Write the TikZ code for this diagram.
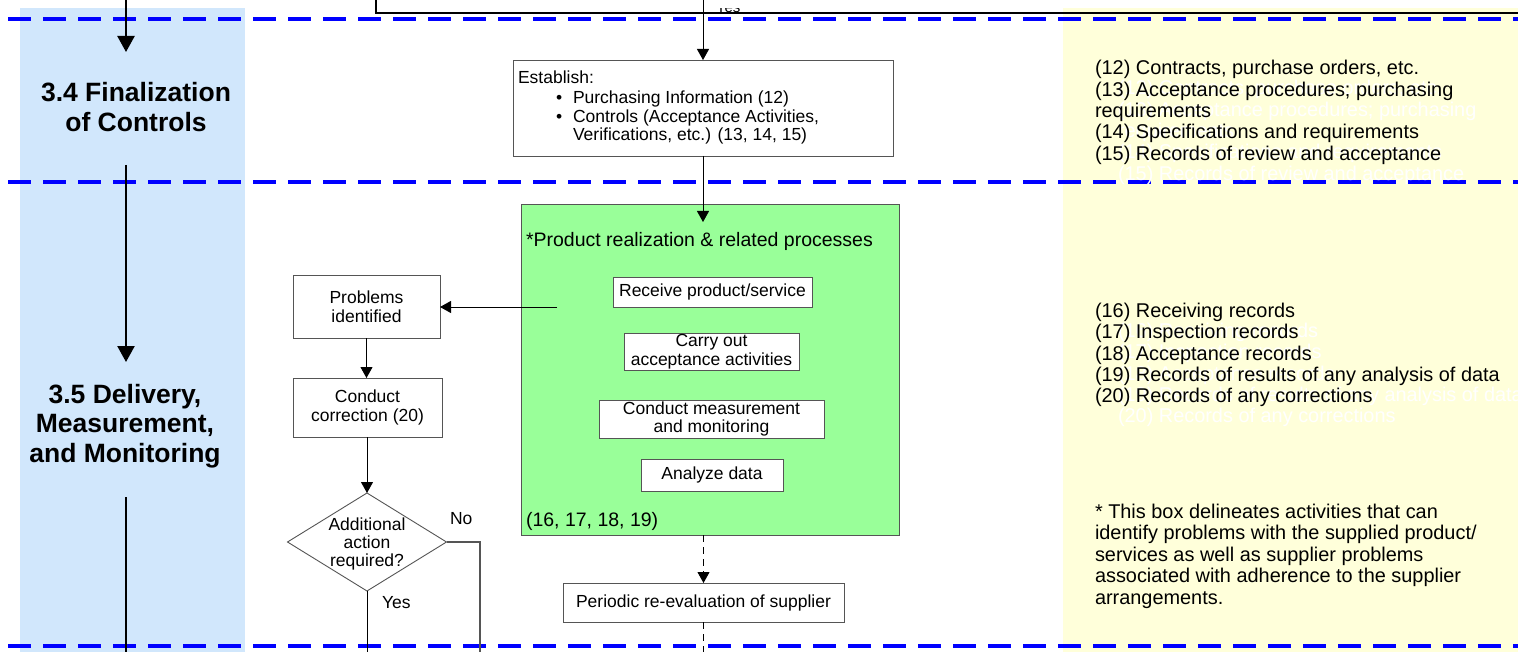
\documentclass[tikz,border=0pt]{standalone}
\usepackage{fontspec}
\setmainfont{Liberation Sans}
\usetikzlibrary{arrows.meta,shapes.geometric}
\definecolor{laneblue}{RGB}{209,231,252}
\definecolor{noteyellow}{RGB}{255,255,218}
\definecolor{procgreen}{RGB}{153,255,153}
\definecolor{sepblue}{RGB}{0,0,255}
\definecolor{edgegray}{RGB}{85,85,85}
\newcommand\fsz[2]{\fontsize{#1}{#2}\selectfont}

\begin{document}
\begin{tikzpicture}[x=1pt,y=-1pt,
  every node/.style={inner sep=0pt, outer sep=0pt},
  procbox/.style={draw=edgegray, fill=white, line width=0.9pt, align=center,
    font=\fsz{17.5}{18.5}},
  sepline/.style={draw=sepblue, line width=3.2pt, dash pattern=on 23pt off 12pt},
  flow/.style={draw=black, line width=0.9pt, -{Triangle[width=12pt,length=11pt]}},
  plain/.style={draw=black, line width=0.9pt},
  dashflow/.style={flow, dash pattern=on 7pt off 5pt},
  lanearrow/.style={draw=black, line width=2.4pt, -{Triangle[width=17pt,length=16pt]}},
  lanehead/.style={font=\bfseries\fsz{26.5}{29.5}, align=center},
  notetext/.style={font=\fsz{19.9}{21.5}, anchor=base west},
  ghosttext/.style={notetext, text=white},
  boxtext/.style={font=\fsz{17.5}{19}, anchor=base west},
  ]
\useasboundingbox (0,0) rectangle (1518,652);
\clip (0,0) rectangle (1518,652);

% lane backgrounds
\fill[laneblue] (20,8) rectangle (245,660);
\fill[noteyellow] (1063,8) rectangle (1530,660);

% lower edge of the box above
\draw[line width=2.6pt] (376,-20) -- (376,13) -- (1530,13);
\begin{scope}
  \clip (690,8.5) rectangle (760,14);
  \node[font=\fsz{15}{18}, anchor=base west] (yestop) at (716,12.5) {Yes};
\end{scope}

% phase separators
\draw[sepline] (8,19) -- (1518,19);
\draw[sepline] (8,182) -- (1518,182);
\draw[sepline] (8,646) -- (1518,646);

% lane column: headings and arrows
\node[lanehead] (h34) at (136,107) {3.4 Finalization\\of Controls};
\node[lanehead] (h35) at (125,426) {3.5 Delivery,\\Measurement,\\and Monitoring};
\coordinate (l0) at (126,-5);
\coordinate (l1) at (126,52);
\coordinate (l2) at (126,165);
\coordinate (l3) at (126,362);
\coordinate (l4) at (126,497);
\coordinate (l5) at (126,660);
\draw[lanearrow] (l0) -- (l1);
\draw[lanearrow] (l2) -- (l3);
\draw[line width=2.4pt] (l4) -- (l5);

% establish box
\node[procbox, minimum width=380pt, minimum height=96pt] (est) at (703,108) {};
\node[boxtext] (est0) at (518,84) {Establish:};
\node[boxtext] (estb1) at (556,104) {\textbullet};
\node[boxtext] (est1) at (573,104) {Purchasing Information (12)};
\node[boxtext] (estb2) at (556,123) {\textbullet};
\node[boxtext] (est2) at (573,123) {Controls (Acceptance Activities,};
\node[boxtext] (est3) at (573,141) {Verifications, etc.) (13, 14, 15)};

% product realization group
\node[draw=edgegray, fill=procgreen, line width=0.9pt,
  minimum width=378pt, minimum height=331pt] (green) at (710,369.5) {};
\node[font=\fsz{19.5}{22}, anchor=base west] (gtitle) at (526,247)
  {*Product realization \& related processes};
\node[font=\fsz{19.5}{22}, anchor=base west] (grefs) at (526,526) {(16, 17, 18, 19)};
\node[procbox, minimum width=199pt, minimum height=30pt] (recv) at (712.5,292)
  {Receive product/service};
\node[procbox, minimum width=175pt, minimum height=37pt] (accept) at (711.5,351.5)
  {Carry out\\acceptance activities};
\node[procbox, minimum width=225pt, minimum height=38pt] (meas) at (711.5,419)
  {Conduct measurement\\and monitoring};
\node[procbox, minimum width=142pt, minimum height=32pt] (anal) at (712,475)
  {Analyze data};

% problem handling branch
\node[procbox, minimum width=147pt, minimum height=63pt] (prob) at (366.5,306.5)
  {Problems\\identified};
\node[procbox, minimum width=149pt, minimum height=59pt] (corr) at (367.5,407.5)
  {Conduct\\correction (20)};
\node[draw=edgegray, fill=white, line width=0.9pt, shape=diamond,
  minimum width=159pt, minimum height=98pt] (dia) at (367,542) {};
\node[font=\fsz{17.5}{18}, align=center] (diatext) at (367,544)
  {Additional\\action\\required?};
\node[font=\fsz{17.5}{18}, anchor=base west] (nolab) at (450,524) {No};
\node[font=\fsz{17.5}{18}, anchor=base west] (yeslab) at (382,608) {Yes};

% periodic re-evaluation
\node[procbox, minimum width=281pt, minimum height=39pt] (per) at (703.5,602.5)
  {Periodic re-evaluation of supplier};

% connectors
\coordinate (topin) at (703,-5);
\coordinate (gin) at (703,222);
\coordinate (gout) at (557,307);
\coordinate (noend) at (480,660);
\coordinate (yesend) at (367,660);
\coordinate (perend) at (703.5,660);
\draw[flow] (topin) -- (est.north);
\draw[flow] (est.south) -- (gin);
\draw[flow] (gout) -- (prob.east |- gout);
\draw[flow] (prob.south) -- (prob.south |- corr.north);
\draw[flow] (corr.south -| dia.north) -- (dia.north);
\draw[draw=edgegray, line width=1.3pt] (dia.east) -| (noend);
\draw[plain] (dia.south) -- (yesend);
\draw[dashflow] (per.north |- green.south) -- (per.north);
\draw[plain, dash pattern=on 7pt off 5pt] (per.south) -- (perend);

% record notes: faint offset copy first, then the text itself
\foreach \t [count=\i] in {(12) Contracts{,} purchase orders{,} etc.,
    (13) Acceptance procedures; purchasing, requirements,
    (14) Specifications and requirements, (15) Records of review and acceptance}{
  \node[ghosttext] (ga\i) at (1118,{75+21.3*(\i-1)+20}) {\t};
}
\foreach \t [count=\i] in {(16) Receiving records, (17) Inspection records,
    (18) Acceptance records, (19) Records of results of any analysis of data,
    (20) Records of any corrections}{
  \node[ghosttext] (gb\i) at (1118,{317.5+21.3*(\i-1)+20}) {\t};
}
\foreach \t [count=\i] in {(12) Contracts{,} purchase orders{,} etc.,
    (13) Acceptance procedures; purchasing, requirements,
    (14) Specifications and requirements, (15) Records of review and acceptance}{
  \node[notetext] (na\i) at (1095,{75+21.3*(\i-1)}) {\t};
}
\foreach \t [count=\i] in {(16) Receiving records, (17) Inspection records,
    (18) Acceptance records, (19) Records of results of any analysis of data,
    (20) Records of any corrections}{
  \node[notetext] (nb\i) at (1095,{317.5+21.3*(\i-1)}) {\t};
}
\foreach \t [count=\i] in {* This box delineates activities that can,
    identify problems with the supplied product/,
    services as well as supplier problems,
    associated with adherence to the supplier, arrangements.}{
  \node[notetext] (nc\i) at (1095,{518+21.5*(\i-1)}) {\t};
}
\end{tikzpicture}
\end{document}
